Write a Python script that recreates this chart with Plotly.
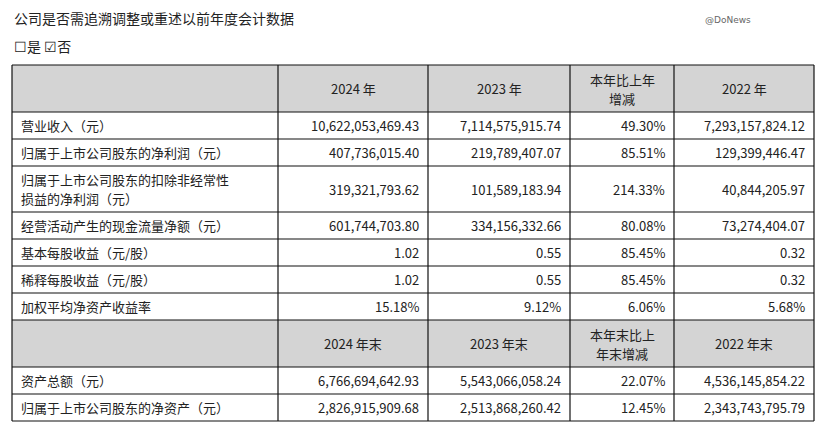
import plotly.graph_objects as go

# table contents
row_labels = ["营业收入（元）", "归属于上市公司股东的净利润（元）",
              "归属于上市公司股东的扣除非经常性<br>损益的净利润（元）",
              "经营活动产生的现金流量净额（元）", "基本每股收益（元/股）",
              "稀释每股收益（元/股）", "加权平均净资产收益率"]
header1 = ["2024 年", "2023 年", "本年比上年<br>增减", "2022 年"]
col_2024 = ["10,622,053,469.43", "407,736,015.40", "319,321,793.62", "601,744,703.80", "1.02", "1.02", "15.18%"]
col_2023 = ["7,114,575,915.74", "219,789,407.07", "101,589,183.94", "334,156,332.66", "0.55", "0.55", "9.12%"]
col_chg = ["49.30%", "85.51%", "214.33%", "80.08%", "85.45%", "85.45%", "6.06%"]
col_2022 = ["7,293,157,824.12", "129,399,446.47", "40,844,205.97", "73,274,404.07", "0.32", "0.32", "5.68%"]

header2 = ["2024 年末", "2023 年末", "本年末比上<br>年末增减", "2022 年末"]
row_labels2 = ["资产总额（元）", "归属于上市公司股东的净资产（元）"]
col2_2024 = ["6,766,694,642.93", "2,826,915,909.68"]
col2_2023 = ["5,543,066,058.24", "2,513,868,260.42"]
col2_chg = ["22.07%", "12.45%"]
col2_2022 = ["4,536,145,854.22", "2,343,743,795.79"]

FONT = "Noto Sans CJK SC"
col_x = [12, 278, 428, 570, 674, 814]
row_h = [47, 27, 27, 46, 27, 27, 27, 27, 47, 27, 27]
top = 65

rows = []  # (kind, cells)
rows.append(("h", [""] + header1))
for i in range(len(row_labels)):
    rows.append(("d", [row_labels[i], col_2024[i], col_2023[i], col_chg[i], col_2022[i]]))
rows.append(("h", [""] + header2))
for i in range(len(row_labels2)):
    rows.append(("d", [row_labels2[i], col2_2024[i], col2_2023[i], col2_chg[i], col2_2022[i]]))

fig = go.Figure()
shapes, ann = [], []
y = top
for (kind, cells), h in zip(rows, row_h):
    if kind == "h":
        shapes.append(dict(type="rect", x0=col_x[0], x1=col_x[-1], y0=y, y1=y + h,
                           fillcolor="#d4d4d4", line_width=0, layer="below"))
    for c, txt in enumerate(cells):
        if not txt:
            continue
        if kind == "h":
            x, anc = (col_x[c] + col_x[c + 1]) / 2, "center"
        elif c == 0:
            x, anc = col_x[0] + 7, "left"
        else:
            x, anc = col_x[c + 1] - 7, "right"
        lines = txt.split("<br>")
        for k, ln in enumerate(lines):
            dy = (k - (len(lines) - 1) / 2) * 19
            ann.append(dict(x=x, y=y + h / 2 + dy, text=ln, xanchor=anc, yanchor="middle", showarrow=False,
                            font=dict(family=FONT, size=13, color="#222")))
    y += h
bottom = y

# grid lines
yy = top
shapes.append(dict(type="line", x0=col_x[0], x1=col_x[-1], y0=top, y1=top, line=dict(color="#111", width=1.2)))
for h in row_h:
    yy += h
    shapes.append(dict(type="line", x0=col_x[0], x1=col_x[-1], y0=yy, y1=yy,
                       line=dict(color="#111", width=1.2)))
for x in col_x:
    shapes.append(dict(type="line", x0=x, x1=x, y0=top, y1=bottom, line=dict(color="#111", width=1.2)))

ann.append(dict(x=12, y=18, text="公司是否需追溯调整或重述以前年度会计数据", xanchor="left", yanchor="middle",
                showarrow=False, font=dict(family=FONT, size=14, color="#222")))
ann.append(dict(x=12, y=46, text="☐是 ☑否", xanchor="left", yanchor="middle",
                showarrow=False, font=dict(family=FONT, size=14, color="#222")))
ann.append(dict(x=728, y=20, text="@DoNews", xanchor="center", yanchor="middle",
                showarrow=False, font=dict(family="DejaVu Sans", size=9, color="#666")))

fig.add_trace(go.Scatter(x=[8, 819], y=[8, 426], mode="markers", marker=dict(opacity=0),
                         hoverinfo="skip", showlegend=False))
fig.update_layout(width=811, height=418, autosize=False, margin=dict(l=0, r=0, t=0, b=0, pad=0),
                  plot_bgcolor="white", paper_bgcolor="white", shapes=shapes, annotations=ann,
                  xaxis=dict(range=[8, 819], visible=False, fixedrange=True),
                  yaxis=dict(range=[426, 8], visible=False, fixedrange=True))
fig.write_html("out.html", config=dict(displayModeBar=False))
